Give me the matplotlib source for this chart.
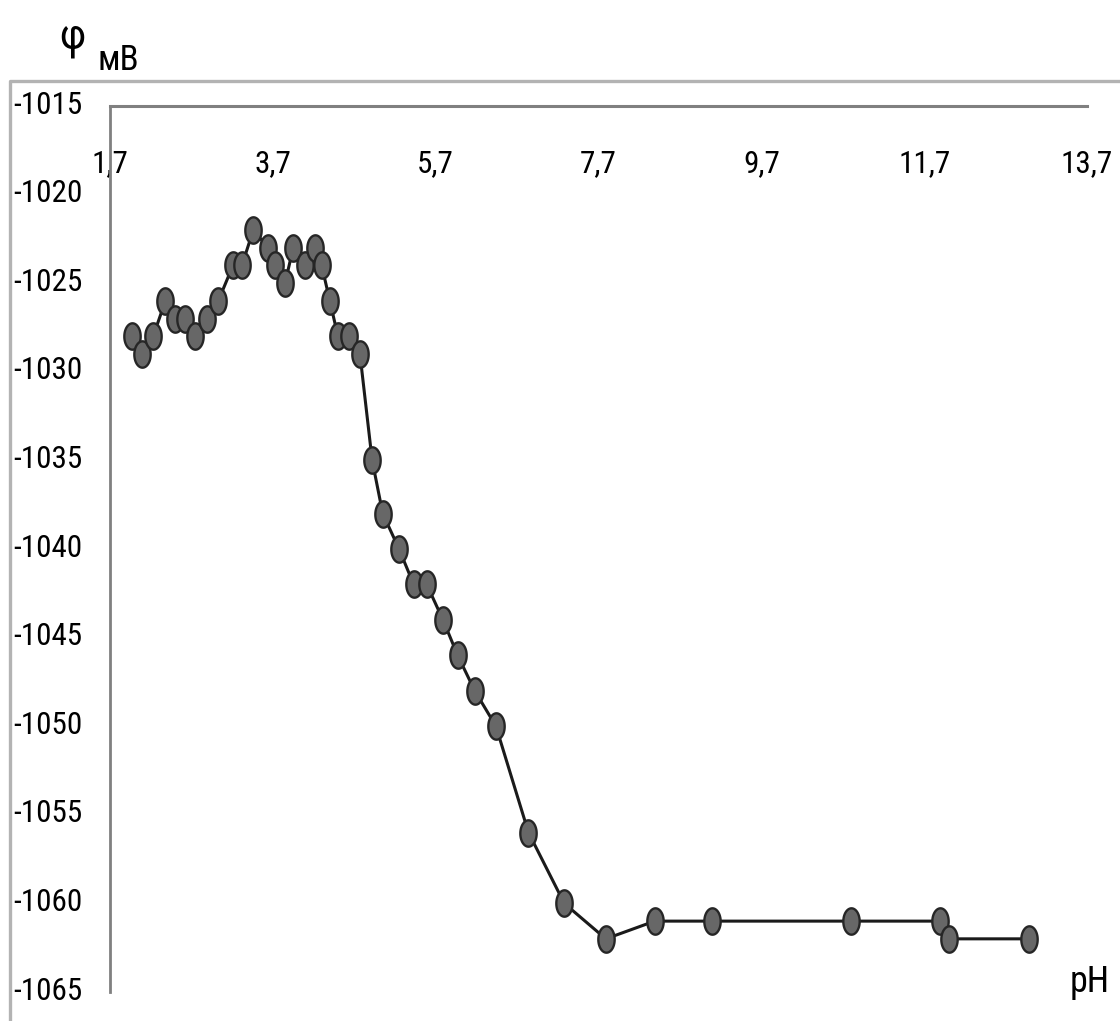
import numpy as np
import matplotlib
matplotlib.use("Agg")
import matplotlib.pyplot as plt
from matplotlib.path import Path
from matplotlib.lines import Line2D
from matplotlib.transforms import ScaledTranslation
from matplotlib import font_manager

# pick the narrowest sans family that is installed
_fonts = font_manager.fontManager.ttflist
_names = {f.name for f in _fonts}
font_kw = {'family': ['DejaVu Sans']}
for cand in ['Liberation Sans Narrow', 'Roboto Condensed', 'Open Sans Condensed',
             'Noto Sans Condensed', 'DejaVu Sans Condensed']:
    if cand in _names:
        font_kw = {'family': [cand, 'DejaVu Sans']}
        break
else:
    if any(f.name == 'DejaVu Sans' and f.stretch == 'condensed' for f in _fonts):
        font_kw = {'family': ['DejaVu Sans'], 'stretch': 'condensed'}
plt.rcParams['font.family'] = font_kw['family']
if 'stretch' in font_kw:
    plt.rcParams['font.stretch'] = font_kw['stretch']

# pH values and measured potential (mV)
ph = [1.97, 2.09, 2.23, 2.38, 2.50, 2.62, 2.74, 2.89, 3.03, 3.21, 3.32,
      3.46, 3.64, 3.73, 3.85, 3.95, 4.10, 4.22, 4.30, 4.40, 4.50, 4.63,
      4.77, 4.92, 5.05, 5.25, 5.43, 5.59, 5.79, 5.97, 6.18, 6.44, 6.84,
      7.28, 7.79, 8.39, 9.10, 10.80, 11.90, 12.00, 12.99]
phi = [-1028, -1029, -1028, -1026, -1027, -1027, -1028, -1027, -1026, -1024, -1024,
       -1022, -1023, -1024, -1025, -1023, -1024, -1023, -1024, -1026, -1028, -1028,
       -1029, -1035, -1038, -1040, -1042, -1042, -1044, -1046, -1048, -1050, -1056,
       -1060, -1062, -1061, -1061, -1061, -1061, -1062, -1062]

x_ticks = [1.7, 3.7, 5.7, 7.7, 9.7, 11.7, 13.7]
x_tick_labels = ['1,7', '3,7', '5,7', '7,7', '9,7', '11,7', '13,7']
y_ticks = [-1015, -1020, -1025, -1030, -1035, -1040, -1045, -1050, -1055, -1060, -1065]

W, H = 1120, 1021
fig = plt.figure(figsize=(W / 100, H / 100), dpi=100)
renderer = fig.canvas.get_renderer()


def fit_size(s, width_px, height_px=None):
    """Font size (pt) that makes text s about width_px wide, capped by height."""
    t = fig.text(0, 0, s, fontsize=20)
    bb = t.get_window_extent(renderer)
    t.remove()
    size = 20 * width_px / bb.width
    return size if height_px is None else min(size, 20 * height_px / bb.height)


tick_size = fit_size('-1015', 69, 40)
ax = fig.add_axes([110 / W, 1 - 992 / H, (1087 - 110) / W, (992 - 106) / H])

# oval marker (taller than wide)
t = np.linspace(0, 2 * np.pi, 60)
oval = Path(np.column_stack([0.62 * np.cos(t), np.sin(t)]), closed=True)

ax.plot(ph, phi, color='#1a1a1a', lw=2.2, zorder=2)
ax.plot(ph, phi, ls='none', marker=oval, ms=19, mfc='#676767', mec='#262626',
        mew=1.7, zorder=3)

ax.set_xlim(1.7, 13.7)
ax.set_ylim(-1065, -1015)

ax.set_xticks(x_ticks)
ax.set_xticklabels(x_tick_labels)
ax.set_yticks(y_ticks)
ax.set_yticklabels([str(v) for v in y_ticks])

ax.xaxis.set_ticks_position('top')
ax.tick_params(axis='x', top=False, bottom=False, labeltop=True, labelbottom=False,
               length=0, pad=-52, labelsize=tick_size)
ax.tick_params(axis='y', left=False, length=0, pad=20, labelsize=tick_size)

# value labels sit slightly above their gridline level
lift = ScaledTranslation(0, 4 / 100, fig.dpi_scale_trans)
for lbl in ax.get_yticklabels():
    lbl.set_transform(lbl.get_transform() + lift)

for s in ['right', 'bottom']:
    ax.spines[s].set_visible(False)
ax.spines['top'].set_color('#808080')
ax.spines['top'].set_linewidth(2.2)
ax.spines['left'].set_color('#808080')
ax.spines['left'].set_linewidth(2.0)

# chart area border
fig.add_artist(Line2D([10 / W, 10 / W, 1.0], [0.0, 1 - 81 / H, 1 - 81 / H],
                      transform=fig.transFigure, color='#b3b3b3', lw=2.4))

fig.text(72 / W, 1 - 38 / H, 'φ', fontsize=fit_size('φ', 26, 46), ha='center',
         va='center')
fig.text(97 / W, 1 - 70 / H, 'мВ', fontsize=fit_size('мВ', 46, 34), ha='left',
         va='baseline')
fig.text(1070 / W, 1 - 992 / H, 'pH', fontsize=fit_size('pH', 40, 46), ha='left',
         va='baseline')

fig.savefig('out.png', dpi=100, facecolor='white')
